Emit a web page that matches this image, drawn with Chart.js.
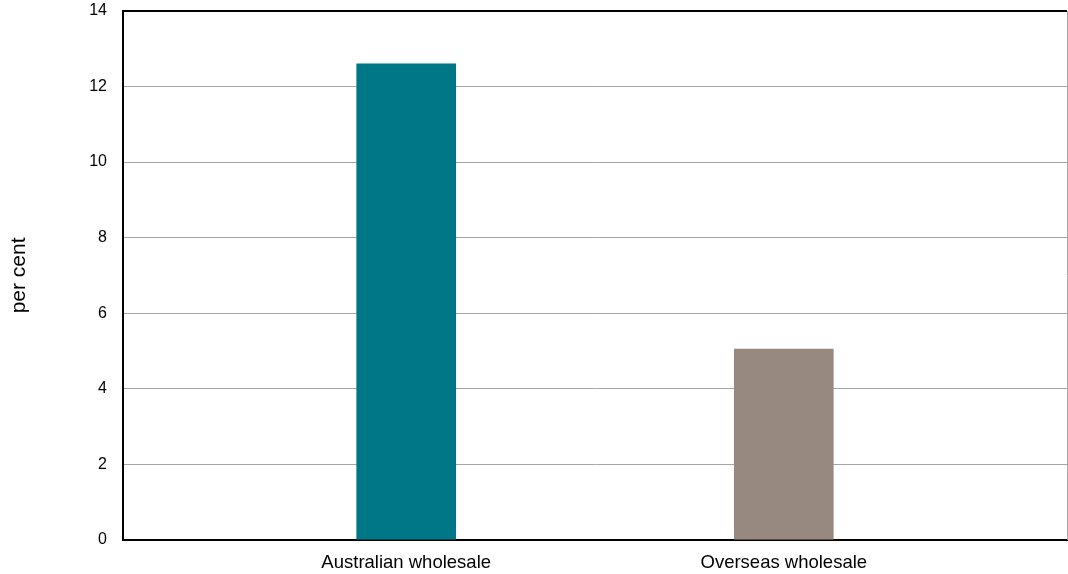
<!DOCTYPE html>
<html>
<head>
<meta charset="utf-8">
<script src="https://cdn.jsdelivr.net/npm/chart.js@4/dist/chart.umd.min.js"></script>
<style>
  html, body { margin: 0; padding: 0; background: #ffffff; }
  #wrap { width: 1068px; height: 574px; position: relative; }
</style>
</head>
<body>
<div id="wrap"><canvas id="chart"></canvas></div>
<script>
// Data
const categories = ['Australian wholesale', 'Overseas wholesale'];
const values = [12.6, 5.05];
const barColors = ['#007786', '#978980'];
const yTicks = [0, 2, 4, 6, 8, 10, 12, 14];

const family = "'Liberation Sans', Arial, sans-serif";

const points = values.map((v, i) => ({ x: i, y: v }));

new Chart(document.getElementById('chart').getContext('2d'), {
    type: 'bar',
    data: {
        datasets: [{
            data: points,
            backgroundColor: barColors,
            borderWidth: 0,
            barThickness: 99
        }]
    },
    options: {
        responsive: true,
        maintainAspectRatio: false,
        animation: false,
        layout: { padding: { top: 11, right: 1, left: 0, bottom: -12 } },
        plugins: { legend: { display: false }, tooltip: { enabled: false } },
        scales: {
            x: {
                type: 'linear',
                offset: false,
                bounds: 'data',
                // categories sit at 0 and 1, with wide margins either side
                afterDataLimits: (scale) => { scale.min = -0.75; scale.max = 1.75; },
                afterBuildTicks: (scale) => { scale.ticks = categories.map((c, i) => ({ value: i })); },
                ticks: {
                    color: '#000000',
                    font: { family: family, size: 18.5 },
                    padding: 12,
                    maxRotation: 0,
                    autoSkip: false,
                    callback: (v) => categories[v]
                },
                grid: { display: false, drawTicks: false },
                border: { display: true, color: '#000000', width: 2 }
            },
            y: {
                min: 0,
                max: 14,
                afterBuildTicks: (scale) => { scale.ticks = yTicks.map(v => ({ value: v })); },
                ticks: { color: '#000000', font: { family: family, size: 16 }, padding: 0 },
                grid: {
                    color: (ctx) => ctx.tick && ctx.tick.value === 14 ? '#000000' : '#a6a6a6',
                    lineWidth: (ctx) => ctx.tick && ctx.tick.value === 14 ? 2 : 1,
                    drawTicks: true,
                    tickLength: 16,
                    tickColor: 'rgba(0,0,0,0)'
                },
                border: { display: true, color: '#000000', width: 2 },
                title: {
                    display: true,
                    text: 'per cent',
                    color: '#000000',
                    font: { family: family, size: 21 },
                    padding: { top: 7, bottom: 57 }
                }
            },
            y2: {
                position: 'right',
                min: 0,
                max: 14,
                ticks: { display: false },
                grid: { drawOnChartArea: false, drawTicks: false },
                border: { display: true, color: '#a6a6a6', width: 1 }
            }
        }
    }
});
</script>
</body>
</html>
